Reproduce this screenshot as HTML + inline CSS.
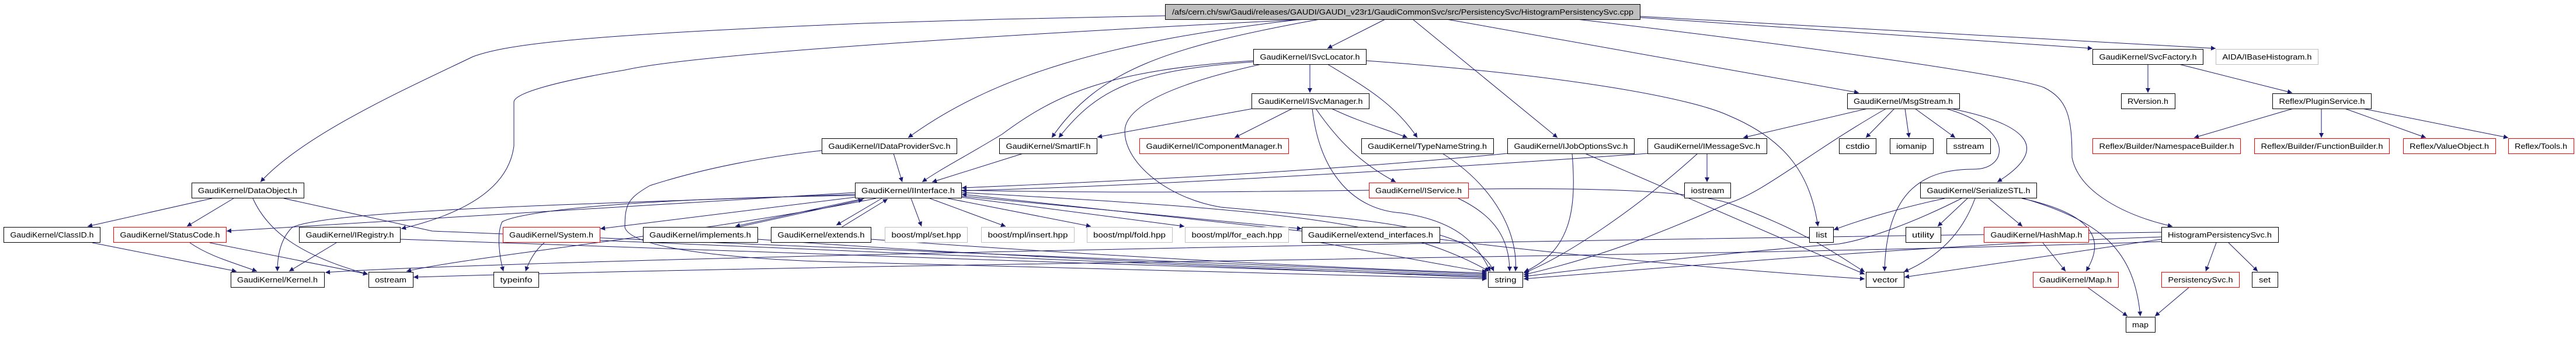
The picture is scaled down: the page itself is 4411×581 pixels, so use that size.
<!DOCTYPE html>
<html><head><meta charset="utf-8"><style>
html,body{margin:0;padding:0;background:#fff;}
svg{display:block}
.e{fill:none;stroke:#191970;stroke-width:1;marker-end:url(#a)}
.n{fill:#fff;stroke:#000;stroke-width:1}
.r{fill:#fff;stroke:#ff0000;stroke-width:1}
.g{fill:#fff;stroke:#bfbfbf;stroke-width:1}
text{font-family:"Liberation Sans","DejaVu Sans",sans-serif;font-size:13px;fill:#000;text-anchor:middle}
</style></head><body>
<svg width="4411" height="581" viewBox="0 0 4411 581" xmlns="http://www.w3.org/2000/svg">
<defs><marker id="a" viewBox="0 0 10 10" refX="10" refY="5" markerWidth="10" markerHeight="8" orient="auto" markerUnits="userSpaceOnUse"><path d="M0,0 L10,5 L0,10z" fill="#191970"/></marker></defs>

<!-- edges -->
<path class="e" d="M1995,27 L1711,33 L1480,40 C1000,60 870,75 810,97 C700,150 520,230 446,312"/>
<path class="e" d="M2240,33 C1800,55 1200,90 1070,120 C950,140 880,160 880,175 L880,250 C870,330 780,370 687,392"/>
<path class="e" d="M2230,33 C1900,70 1700,130 1555,236"/>
<path class="e" d="M2260,33 C2000,80 1880,120 1801,236"/>
<path class="e" d="M2146,106 C1950,120 1880,150 1813,236"/>
<path class="e" d="M2146,104 C1900,120 1810,160 1716,230 C1650,270 1610,290 1579,312"/>
<path class="e" d="M2160,110 C1980,150 1926,190 1926,225 C1926,280 2000,340 2090,355 C2300,375 2520,380 2558,465"/>
<path class="e" d="M2243,110 L2243,159"/>
<path class="e" d="M2273,110 C2340,150 2390,180 2427,236"/>
<path class="e" d="M2339,104 C2700,130 2900,170 2960,198 C3060,240 3100,300 3113,388"/>
<path class="e" d="M2146,186 L1879,235"/>
<path class="e" d="M2213,186 L2114,236"/>
<path class="e" d="M2280,186 C2330,210 2370,220 2410,236"/>
<path class="e" d="M2253,186 C2290,240 2330,280 2390,312"/>
<path class="e" d="M2247,186 C2260,300 2320,360 2400,365 C2500,380 2530,420 2552,465"/>
<path class="e" d="M2372,33 L2273,83"/>
<path class="e" d="M2419,33 L2667,236"/>
<path class="e" d="M2477,33 L3183,159"/>
<path class="e" d="M2808,30 L3583,83"/>
<path class="e" d="M2808,28 L3794,83"/>
<path class="e" d="M2700,33 C3100,80 3450,130 3500,150 C3540,170 3548,200 3548,270 C3560,330 3640,370 3720,388"/>
<path class="e" d="M2470,263 C2560,320 2600,400 2595,465"/>
<path class="e" d="M2497,340 C2560,370 2585,410 2585,465"/>
<path class="e" d="M2692,263 C2700,360 2690,430 2610,466"/>
<path class="e" d="M2581,263 C2200,300 1800,315 1647,322"/>
<path class="e" d="M2714,263 L3193,470"/>
<path class="e" d="M2821,263 C2300,300 1900,320 1647,327"/>
<path class="e" d="M2923,263 L2923,312"/>
<path class="e" d="M2907,263 C2800,360 2680,440 2609,468"/>
<path class="e" d="M3198,186 L2985,236"/>
<path class="e" d="M3230,186 C3100,260 3020,330 2960,348 C2800,420 2700,450 2609,471"/>
<path class="e" d="M3244,186 L3195,236"/>
<path class="e" d="M3262,186 L3269,236"/>
<path class="e" d="M3279,186 L3348,236"/>
<path class="e" d="M3332,186 C3450,220 3440,290 3380,290 C3300,290 3230,320 3227,465"/>
<path class="e" d="M3340,186 C3460,210 3520,250 3420,312"/>
<path class="e" d="M3330,340 C3260,355 3190,375 3140,394"/>
<path class="e" d="M3369,340 L3318,388"/>
<path class="e" d="M3382,340 C3360,400 3320,440 3260,466"/>
<path class="e" d="M3405,340 L3463,388"/>
<path class="e" d="M3462,340 C3600,370 3600,420 3572,465"/>
<path class="e" d="M3465,340 C3600,380 3655,430 3665,542"/>
<path class="e" d="M3359,340 C3280,380 3200,410 3149,418 C3000,430 2800,450 2609,474"/>
<path class="e" d="M3498,416 L3537,465"/>
<path class="e" d="M3574,492 L3643,542"/>
<path class="e" d="M3749,492 L3690,542"/>
<path class="e" d="M3795,416 L3777,465"/>
<path class="e" d="M3816,416 L3866,465"/>
<path class="e" d="M3701,410 L3261,475"/>
<path class="e" d="M3701,406 C3300,420 2900,455 2609,478"/>
<path class="e" d="M3701,414 C3000,440 1500,450 708,475"/>
<path class="e" d="M3678,110 L3678,159"/>
<path class="e" d="M3731,110 L3925,159"/>
<path class="e" d="M3927,186 L3757,236"/>
<path class="e" d="M3975,186 L3975,236"/>
<path class="e" d="M4015,186 L4154,236"/>
<path class="e" d="M4045,186 L4295,236"/>
<path class="e" d="M1530,263 L1545,312"/>
<path class="e" d="M1407,258 C1300,270 1200,290 1113,318 C1075,340 1070,350 1070,390 C1080,420 1200,440 1400,448 C1900,462 2300,470 2546,478"/>
<path class="e" d="M1752,263 L1596,312"/>
<path class="e" d="M1464,330 L388,396"/>
<path class="e" d="M1464,333 C1000,350 560,360 500,390 C480,410 475,440 475,465"/>
<path class="e" d="M1500,340 C1200,400 800,440 696,465"/>
<path class="e" d="M1464,338 L1028,392"/>
<path class="e" d="M1480,340 L1259,388"/>
<path class="e" d="M1260,390 L1478,342"/>
<path class="e" d="M1510,340 L1432,386"/>
<path class="e" d="M1440,390 L1520,341"/>
<path class="e" d="M1464,335 C1100,340 900,360 860,380 C850,400 855,440 862,465"/>
<path class="e" d="M932,416 C915,430 905,450 900,465"/>
<path class="e" d="M1560,340 L1578,388"/>
<path class="e" d="M1592,340 L1722,388"/>
<path class="e" d="M1623,340 L1868,388"/>
<path class="e" d="M1646,338 L2028,388"/>
<path class="e" d="M1646,336 L2229,392"/>
<path class="e" d="M2229,396 L1647,333"/>
<path class="e" d="M363,340 L150,388"/>
<path class="e" d="M400,340 L320,388"/>
<path class="e" d="M433,340 C460,400 520,440 630,470"/>
<path class="e" d="M486,340 L740,396 C1400,420 2000,450 2546,470"/>
<path class="e" d="M359,416 L630,470"/>
<path class="e" d="M325,416 C360,440 400,450 440,465"/>
<path class="e" d="M158,416 L405,465"/>
<path class="e" d="M576,416 L495,465"/>
<path class="e" d="M685,410 C1200,430 2000,455 2546,474"/>
<path class="e" d="M1027,412 C1600,440 2100,460 2546,476"/>
<path class="e" d="M1297,410 C1700,440 2200,460 2546,472"/>
<path class="e" d="M1491,410 C1900,440 2300,460 2546,468"/>
<path class="e" d="M2229,410 C2400,440 2500,460 2546,466"/>
<path class="e" d="M3701,398 C2000,420 800,450 557,467"/>
<path class="e" d="M2465,410 C2700,440 3000,465 3193,478"/>
<path class="e" d="M1646,330 C2200,360 2400,380 2550,465"/>
<path class="e" d="M1646,326 C2300,340 2800,300 2960,348 C3100,400 3150,440 3193,466"/>

<!-- nodes -->
<rect x="1995.5" y="7.5" width="813" height="26" fill="#bfbfbf" stroke="#000"/><text x="2402" y="25" textLength="790" lengthAdjust="spacingAndGlyphs">/afs/cern.ch/sw/Gaudi/releases/GAUDI/GAUDI_v23r1/GaudiCommonSvc/src/PersistencySvc/HistogramPersistencySvc.cpp</text>

<rect class="n" x="2146.5" y="84.5" width="193" height="26"/><text x="2243" y="102" textLength="171" lengthAdjust="spacingAndGlyphs">GaudiKernel/ISvcLocator.h</text>
<rect class="n" x="3583.5" y="84.5" width="189" height="26"/><text x="3678" y="102" textLength="167" lengthAdjust="spacingAndGlyphs">GaudiKernel/SvcFactory.h</text>
<rect class="g" x="3794.5" y="84.5" width="175" height="26"/><text x="3882" y="102" textLength="153" lengthAdjust="spacingAndGlyphs">AIDA/IBaseHistogram.h</text>

<rect class="n" x="2143.5" y="160.5" width="201" height="26"/><text x="2244" y="178" textLength="179" lengthAdjust="spacingAndGlyphs">GaudiKernel/ISvcManager.h</text>
<rect class="n" x="3163.5" y="160.5" width="192" height="26"/><text x="3259" y="178" textLength="170" lengthAdjust="spacingAndGlyphs">GaudiKernel/MsgStream.h</text>
<rect class="n" x="3632.5" y="160.5" width="92" height="26"/><text x="3678" y="178" textLength="70" lengthAdjust="spacingAndGlyphs">RVersion.h</text>
<rect class="n" x="3891.5" y="160.5" width="169" height="26"/><text x="3976" y="178" textLength="147" lengthAdjust="spacingAndGlyphs">Reflex/PluginService.h</text>

<rect class="n" x="1407.5" y="237.5" width="231" height="26"/><text x="1523" y="255" textLength="209" lengthAdjust="spacingAndGlyphs">GaudiKernel/IDataProviderSvc.h</text>
<rect class="n" x="1711.5" y="237.5" width="167" height="26"/><text x="1795" y="255" textLength="145" lengthAdjust="spacingAndGlyphs">GaudiKernel/SmartIF.h</text>
<rect class="r" x="1951.5" y="237.5" width="255" height="26"/><text x="2079" y="255" textLength="233" lengthAdjust="spacingAndGlyphs">GaudiKernel/IComponentManager.h</text>
<rect class="n" x="2331.5" y="237.5" width="226" height="26"/><text x="2444" y="255" textLength="204" lengthAdjust="spacingAndGlyphs">GaudiKernel/TypeNameString.h</text>
<rect class="n" x="2581.5" y="237.5" width="217" height="26"/><text x="2690" y="255" textLength="195" lengthAdjust="spacingAndGlyphs">GaudiKernel/IJobOptionsSvc.h</text>
<rect class="n" x="2821.5" y="237.5" width="204" height="26"/><text x="2923" y="255" textLength="182" lengthAdjust="spacingAndGlyphs">GaudiKernel/IMessageSvc.h</text>
<rect class="n" x="3149.5" y="237.5" width="63" height="26"/><text x="3181" y="255" textLength="41" lengthAdjust="spacingAndGlyphs">cstdio</text>
<rect class="n" x="3236.5" y="237.5" width="74" height="26"/><text x="3273" y="255" textLength="52" lengthAdjust="spacingAndGlyphs">iomanip</text>
<rect class="n" x="3333.5" y="237.5" width="75" height="26"/><text x="3371" y="255" textLength="53" lengthAdjust="spacingAndGlyphs">sstream</text>
<rect class="r" x="3583.5" y="237.5" width="253" height="26"/><text x="3710" y="255" textLength="231" lengthAdjust="spacingAndGlyphs">Reflex/Builder/NamespaceBuilder.h</text>
<rect class="r" x="3860.5" y="237.5" width="231" height="26"/><text x="3976" y="255" textLength="209" lengthAdjust="spacingAndGlyphs">Reflex/Builder/FunctionBuilder.h</text>
<rect class="r" x="4115.5" y="237.5" width="158" height="26"/><text x="4194" y="255" textLength="136" lengthAdjust="spacingAndGlyphs">Reflex/ValueObject.h</text>
<rect class="r" x="4295.5" y="237.5" width="112" height="26"/><text x="4351" y="255" textLength="90" lengthAdjust="spacingAndGlyphs">Reflex/Tools.h</text>

<rect class="n" x="328.5" y="313.5" width="192" height="26"/><text x="424" y="331" textLength="170" lengthAdjust="spacingAndGlyphs">GaudiKernel/DataObject.h</text>
<rect class="n" x="1464.5" y="313.5" width="182" height="26"/><text x="1555" y="331" textLength="160" lengthAdjust="spacingAndGlyphs">GaudiKernel/IInterface.h</text>
<rect class="r" x="2344.5" y="313.5" width="170" height="26"/><text x="2429" y="331" textLength="148" lengthAdjust="spacingAndGlyphs">GaudiKernel/IService.h</text>
<rect class="n" x="2884.5" y="313.5" width="79" height="26"/><text x="2924" y="331" textLength="57" lengthAdjust="spacingAndGlyphs">iostream</text>
<rect class="n" x="3288.5" y="313.5" width="199" height="26"/><text x="3388" y="331" textLength="177" lengthAdjust="spacingAndGlyphs">GaudiKernel/SerializeSTL.h</text>

<rect class="n" x="6.5" y="389.5" width="165" height="26"/><text x="89" y="407" textLength="143" lengthAdjust="spacingAndGlyphs">GaudiKernel/ClassID.h</text>
<rect class="r" x="194.5" y="389.5" width="193" height="26"/><text x="291" y="407" textLength="171" lengthAdjust="spacingAndGlyphs">GaudiKernel/StatusCode.h</text>
<rect class="n" x="512.5" y="389.5" width="173" height="26"/><text x="599" y="407" textLength="151" lengthAdjust="spacingAndGlyphs">GaudiKernel/IRegistry.h</text>
<rect class="r" x="861.5" y="389.5" width="166" height="26"/><text x="944" y="407" textLength="144" lengthAdjust="spacingAndGlyphs">GaudiKernel/System.h</text>
<rect class="n" x="1101.5" y="389.5" width="196" height="26"/><text x="1199" y="407" textLength="174" lengthAdjust="spacingAndGlyphs">GaudiKernel/implements.h</text>
<rect class="n" x="1320.5" y="389.5" width="171" height="26"/><text x="1406" y="407" textLength="149" lengthAdjust="spacingAndGlyphs">GaudiKernel/extends.h</text>
<rect class="g" x="1515.5" y="389.5" width="141" height="26"/><text x="1586" y="407" textLength="119" lengthAdjust="spacingAndGlyphs">boost/mpl/set.hpp</text>
<rect class="g" x="1680.5" y="389.5" width="159" height="26"/><text x="1760" y="407" textLength="137" lengthAdjust="spacingAndGlyphs">boost/mpl/insert.hpp</text>
<rect class="g" x="1861.5" y="389.5" width="146" height="26"/><text x="1934" y="407" textLength="124" lengthAdjust="spacingAndGlyphs">boost/mpl/fold.hpp</text>
<rect class="g" x="2029.5" y="389.5" width="177" height="26"/><text x="2118" y="407" textLength="155" lengthAdjust="spacingAndGlyphs">boost/mpl/for_each.hpp</text>
<rect class="n" x="2229.5" y="389.5" width="236" height="26"/><text x="2347" y="407" textLength="214" lengthAdjust="spacingAndGlyphs">GaudiKernel/extend_interfaces.h</text>
<rect class="n" x="3098.5" y="389.5" width="41" height="26"/><text x="3119" y="407" textLength="19" lengthAdjust="spacingAndGlyphs">list</text>
<rect class="n" x="3263.5" y="389.5" width="60" height="26"/><text x="3293" y="407" textLength="38" lengthAdjust="spacingAndGlyphs">utility</text>
<rect class="r" x="3397.5" y="389.5" width="179" height="26"/><text x="3487" y="407" textLength="157" lengthAdjust="spacingAndGlyphs">GaudiKernel/HashMap.h</text>
<rect class="n" x="3701.5" y="389.5" width="200" height="26"/><text x="3801" y="407" textLength="178" lengthAdjust="spacingAndGlyphs">HistogramPersistencySvc.h</text>

<rect class="n" x="395.5" y="466.5" width="160" height="26"/><text x="475" y="484" textLength="138" lengthAdjust="spacingAndGlyphs">GaudiKernel/Kernel.h</text>
<rect class="n" x="631.5" y="466.5" width="76" height="26"/><text x="669" y="484" textLength="54" lengthAdjust="spacingAndGlyphs">ostream</text>
<rect class="n" x="845.5" y="466.5" width="77" height="26"/><text x="884" y="484" textLength="55" lengthAdjust="spacingAndGlyphs">typeinfo</text>
<rect class="n" x="2548.5" y="466.5" width="59" height="26"/><text x="2578" y="484" textLength="37" lengthAdjust="spacingAndGlyphs">string</text>
<rect class="n" x="3195.5" y="466.5" width="65" height="26"/><text x="3228" y="484" textLength="43" lengthAdjust="spacingAndGlyphs">vector</text>
<rect class="r" x="3481.5" y="466.5" width="146" height="26"/><text x="3554" y="484" textLength="124" lengthAdjust="spacingAndGlyphs">GaudiKernel/Map.h</text>
<rect class="r" x="3701.5" y="466.5" width="133" height="26"/><text x="3768" y="484" textLength="111" lengthAdjust="spacingAndGlyphs">PersistencySvc.h</text>
<rect class="n" x="3856.5" y="466.5" width="44" height="26"/><text x="3878" y="484" textLength="20" lengthAdjust="spacingAndGlyphs">set</text>

<rect class="n" x="3640.5" y="543.5" width="50" height="26"/><text x="3665" y="561" textLength="28" lengthAdjust="spacingAndGlyphs">map</text>
</svg>
</body></html>
